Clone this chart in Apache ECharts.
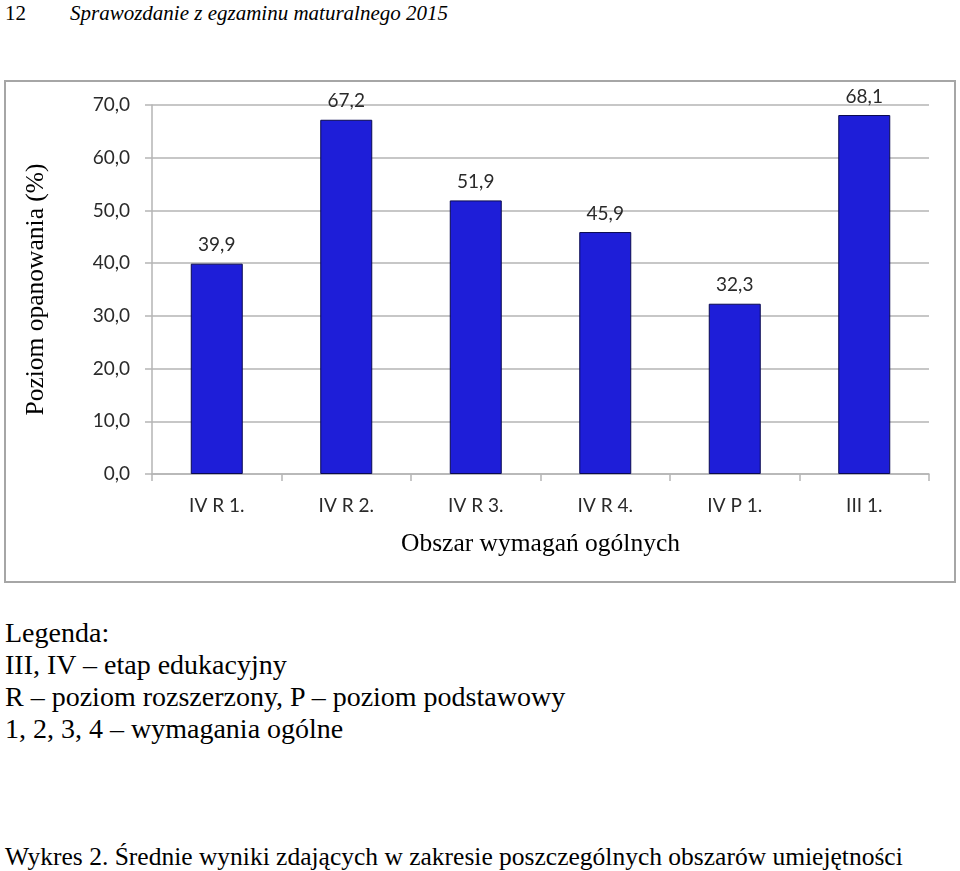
<!DOCTYPE html>
<html>
<head>
<meta charset="utf-8">
<script src="https://cdn.jsdelivr.net/npm/echarts@6.0.0/dist/echarts.min.js"></script>
<style>
	body{ margin:0; width:960px; height:871px; background:#fff; position:relative; overflow:hidden; font-family:"Liberation Serif", serif; color:#000; }
	.head{ position:absolute; left:5px; top:0px; font-size:21px; line-height:26px; }
	.head i{ margin-left:44px; }
	#chart{ position:absolute; left:4px; top:80px; width:952px; height:503px; border:2px solid #a6a6a6; box-sizing:border-box; }
	.legenda{ position:absolute; left:5px; top:617px; font-size:28px; line-height:32px; }
	.caption{ position:absolute; left:5px; top:842px; font-size:25.5px; line-height:30px; }
</style>
</head>
<body>
	<div class="head">12<i>Sprawozdanie z egzaminu maturalnego 2015</i></div>
	<div id="chart"></div>
	<div class="legenda">
		Legenda:<br>
		III, IV – etap edukacyjny<br>
		R – poziom rozszerzony, P – poziom podstawowy<br>
		1, 2, 3, 4 – wymagania ogólne
	</div>
	<div class="caption">Wykres 2. Średnie wyniki zdających w zakresie poszczególnych obszarów umiejętności</div>

<script>
	// dane z wykresu
	var obszary = ['IV R 1.', 'IV R 2.', 'IV R 3.', 'IV R 4.', 'IV P 1.', 'III 1.'];
	var wyniki = [39.9, 67.2, 51.9, 45.9, 32.3, 68.1];

	function przecinek(v){
		return v.toFixed(1).replace('.', ',');
	}

	var chart = echarts.init(document.getElementById('chart'));
	var option = {
		animation: false,
		grid: {
			left: 146,
			right: 25,
			top: 23,
			bottom: 107
		},
		xAxis: {
			type: 'category',
			data: obszary,
			name: 'Obszar wymagań ogólnych',
			nameLocation: 'middle',
			nameGap: 57,
			nameTextStyle: {
				fontFamily: 'Liberation Serif',
				fontSize: 25.5,
				color: '#000'
			},
			axisLine: { lineStyle: { color: '#b5b5b5', width: 1.5 } },
			axisTick: { show: true, length: 7, lineStyle: { color: '#b5b5b5', width: 1.5 } },
			axisLabel: {
				margin: 22,
				fontFamily: 'Lato',
				fontSize: 19,
				color: '#2a2a2a'
			}
		},
		yAxis: {
			type: 'value',
			min: 0,
			max: 70,
			interval: 10,
			name: 'Poziom opanowania (%)',
			nameLocation: 'middle',
			nameGap: 103,
			nameRotate: 90,
			nameTextStyle: {
				fontFamily: 'Liberation Serif',
				fontSize: 25.5,
				color: '#000'
			},
			axisLine: { show: true, lineStyle: { color: '#b5b5b5', width: 1.5 } },
			axisTick: { show: true, length: 7, lineStyle: { color: '#b5b5b5', width: 1.5 } },
			splitLine: { show: true, lineStyle: { color: '#b5b5b5', width: 1.5 } },
			axisLabel: {
				margin: 22,
				fontFamily: 'Lato',
				fontSize: 19,
				color: '#2a2a2a',
				formatter: przecinek
			}
		},
		series: [{
			type: 'bar',
			data: wyniki,
			barWidth: 52,
			itemStyle: {
				color: '#1e1ed8',
				borderColor: '#0a0a50',
				borderWidth: 1
			},
			label: {
				show: true,
				position: 'top',
				distance: 9,
				fontFamily: 'Lato',
				fontSize: 19,
				color: '#2a2a2a',
				formatter: function(p){ return przecinek(p.value); }
			}
		}]
	};
	chart.setOption(option);
</script>
</body>
</html>
